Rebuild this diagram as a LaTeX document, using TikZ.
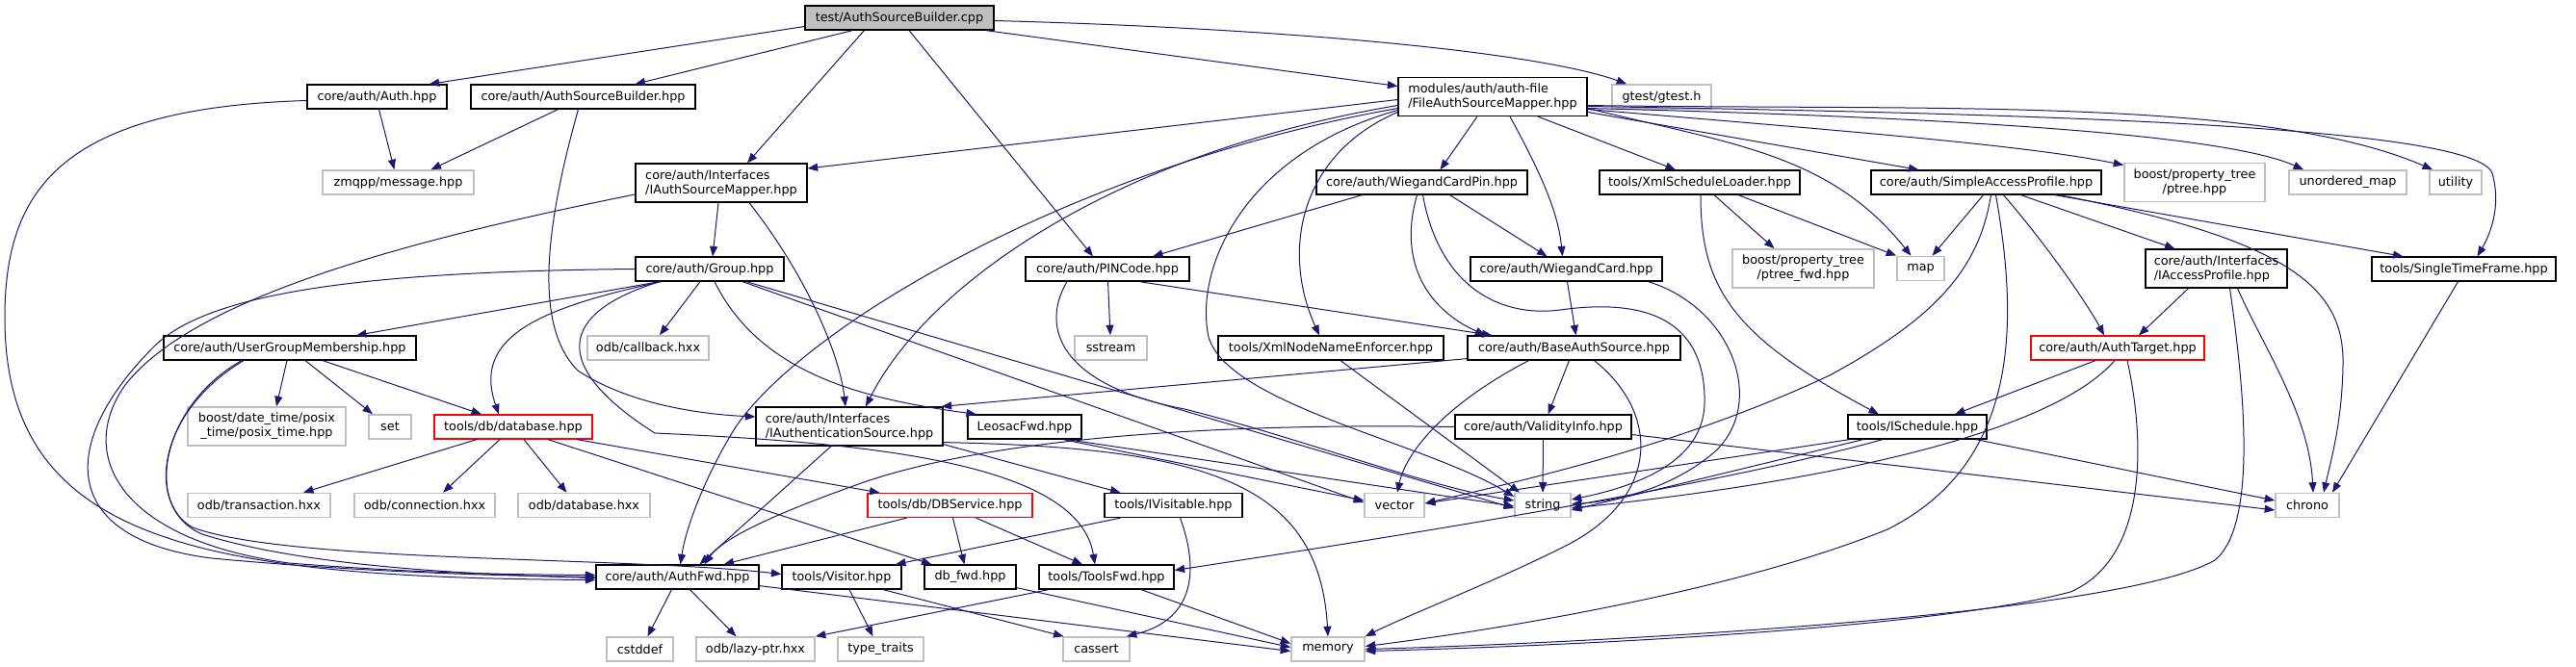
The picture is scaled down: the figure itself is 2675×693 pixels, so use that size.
\documentclass[tikz,border=0pt]{standalone}
\usepackage{fontspec}
\setmainfont{DejaVu Sans}
\usepackage{xcolor}
\usepackage{tikz}
\usetikzlibrary{arrows.meta}
\definecolor{edgeblue}{HTML}{191970}
\definecolor{extgray}{HTML}{BFBFBF}
\definecolor{truncred}{HTML}{FF0000}

\begin{document}
\begin{tikzpicture}[x=1pt,y=-1pt,font=\fontsize{12.8pt}{15pt}\selectfont,
  box/.style={draw=black,line width=1.2pt,fill=white,inner xsep=3pt,inner ysep=2pt,minimum height=25pt,align=left},
  ext/.style={box,draw=extgray,line width=1.6pt,align=center},
  trunc/.style={box,draw=truncred}, rootbox/.style={box,fill=extgray},
  wd/.style={minimum width=#1pt}, two/.style={minimum height=40pt},
  ar/.style={-{Triangle[length=10.5pt,width=8pt]},edgeblue,line width=1pt}]
  \useasboundingbox[fill=white] (0,0) rectangle (2675,693);
  \node[rootbox,wd=196] (root) at (934,18.5) {test/AuthSourceBuilder.cpp};
  \node[box,wd=145] (auth) at (391.5,100.5) {core/auth/Auth.hpp};
  \node[box,wd=233] (asb) at (605.5,100.5) {core/auth/AuthSourceBuilder.hpp};
  \node[ext,wd=157] (zmq) at (413.5,189.5) {zmqpp/message.hpp};
  \node[box,two,wd=178] (iasm) at (749,190) {core/auth/Interfaces\\/IAuthSourceMapper.hpp};
  \node[box,wd=154] (grp) at (737,279.5) {core/auth/Group.hpp};
  \node[box,two,wd=196] (fasm) at (1550,100.5) {modules/auth/auth-file\\/FileAuthSourceMapper.hpp};
  \node[ext,wd=103] (gtest) at (1725.5,100.5) {gtest/gtest.h};
  \node[box,wd=219] (wcp) at (1476.5,189.5) {core/auth/WiegandCardPin.hpp};
  \node[box,wd=208] (xsl) at (1765,189.5) {tools/XmlScheduleLoader.hpp};
  \node[box,wd=239] (sap) at (2062.5,189.5) {core/auth/SimpleAccessProfile.hpp};
  \node[ext,two,wd=146] (ptree) at (2279,189.5) {boost/property\_tree\\/ptree.hpp};
  \node[ext,wd=122] (umap) at (2438,189.5) {unordered\_map};
  \node[ext,wd=54] (util) at (2550,189.5) {utility};
  \node[box,wd=170] (pin) at (1150,279.5) {core/auth/PINCode.hpp};
  \node[box,wd=199] (wc) at (1626.5,279.5) {core/auth/WiegandCard.hpp};
  \node[ext,two,wd=147] (pfwd) at (1872.5,279) {boost/property\_tree\\/ptree\_fwd.hpp};
  \node[ext,wd=49] (map) at (1994.5,279) {map};
  \node[box,two,wd=147] (iap) at (2301.5,279) {core/auth/Interfaces\\/IAccessProfile.hpp};
  \node[box,wd=191] (stf) at (2558.5,279.5) {tools/SingleTimeFrame.hpp};
  \node[box,wd=262] (ugm) at (301,361.5) {core/auth/UserGroupMembership.hpp};
  \node[ext,wd=126] (cb) at (673,361.5) {odb/callback.hxx};
  \node[ext,wd=75] (sst) at (1153.5,361.5) {sstream};
  \node[box,wd=234] (xnne) at (1382,361.5) {tools/XmlNodeNameEnforcer.hpp};
  \node[box,wd=221] (bas) at (1634.5,361.5) {core/auth/BaseAuthSource.hpp};
  \node[trunc,wd=180] (atgt) at (2199,361.5) {core/auth/AuthTarget.hpp};
  \node[ext,two,wd=164] (posix) at (277,443) {boost/date\_time/posix\\\_time/posix\_time.hpp};
  \node[ext,wd=44] (set) at (405,443.5) {set};
  \node[trunc,wd=164] (db) at (533,443.5) {tools/db/database.hpp};
  \node[box,two,wd=194] (ias) at (882,443) {core/auth/Interfaces\\/IAuthenticationSource.hpp};
  \node[box,wd=118] (leo) at (1064,443.5) {LeosacFwd.hpp};
  \node[box,wd=183] (vinfo) at (1602.5,443.5) {core/auth/ValidityInfo.hpp};
  \node[box,wd=144] (isch) at (1991,443.5) {tools/ISchedule.hpp};
  \node[ext,wd=148] (trans) at (269,525) {odb/transaction.hxx};
  \node[ext,wd=146] (conn) at (441,525) {odb/connection.hxx};
  \node[ext,wd=137] (odbdb) at (606.5,525) {odb/database.hxx};
  \node[trunc,wd=171] (dbs) at (986.5,525) {tools/db/DBService.hpp};
  \node[box,wd=143] (ivis) at (1218.5,525) {tools/IVisitable.hpp};
  \node[ext,wd=62] (vec) at (1448,525) {vector};
  \node[ext,wd=58] (str) at (1602,525) {string};
  \node[ext,wd=66] (chr) at (2396,525) {chrono};
  \node[box,wd=169] (afwd) at (703.5,599.5) {core/auth/AuthFwd.hpp};
  \node[box,wd=124] (vis) at (874,599.5) {tools/Visitor.hpp};
  \node[box,wd=95] (dbfwd) at (1007.5,599.5) {db\_fwd.hpp};
  \node[box,wd=140] (tfwd) at (1149,599.5) {tools/ToolsFwd.hpp};
  \node[ext,wd=69] (cstd) at (664.5,674.5) {cstddef};
  \node[ext,wd=123] (lazy) at (784.5,674.5) {odb/lazy-ptr.hxx};
  \node[ext,wd=89] (tt) at (914.5,674.5) {type\_traits};
  \node[ext,wd=69] (cass) at (1138.5,674.5) {cassert};
  \node[ext,wd=76] (mem) at (1379,674.5) {memory};
  \draw[ar] ([yshift=-9]root.west) -- ([xshift=-19]auth.north east);
  \draw[ar] ([xshift=50]root.south west) -- ([xshift=54]asb.north);
  \draw[ar] ([xshift=62]root.south west) -- ([xshift=27]iasm.north);
  \draw[ar] ([xshift=10]root.south) -- ([xshift=-15]pin.north);
  \draw[ar] ([xshift=-9]root.south east) -- ([yshift=11]fasm.west);
  \draw[ar] ([yshift=-3]root.east) .. controls (1350,30) and (1600,55) .. ([xshift=16]gtest.north west);
  \draw[ar] ([xshift=2]auth.south) -- ([xshift=-4]zmq.north);
  \draw[ar] ([yshift=-4]auth.west) .. controls (60,112) and (5,200) .. (5,330) .. controls (5,560) and (200,600) .. ([yshift=-3]afwd.west);
  \draw[ar] ([xshift=-26]asb.south) -- ([xshift=34]zmq.north);
  \draw[ar] ([xshift=-5]asb.south) .. controls (565,240) and (555,340) .. (600,385) .. controls (650,418) and (720,430) .. ([yshift=10]ias.west);
  \draw[ar] ([xshift=-3]iasm.south) -- ([xshift=3]grp.north);
  \draw[ar] ([xshift=29]iasm.south) .. controls (840,290) and (872,370) .. ([xshift=-4]ias.north);
  \draw[ar] ([yshift=-12]iasm.west) .. controls (420,250) and (200,310) .. (130,400) .. controls (80,470) and (120,560) .. (300,585) .. controls (450,597) and (560,597) .. ([yshift=2]afwd.west);
  \draw[ar] (grp.west) .. controls (400,282) and (220,300) .. (160,360) .. controls (60,460) and (60,560) .. (220,580) .. controls (380,595) and (520,598) .. (afwd.west);
  \draw[ar] ([xshift=-52]grp.south) -- ([xshift=69]ugm.north);
  \draw[ar] ([xshift=-50]grp.south) .. controls (560,320) and (490,350) .. ([xshift=-15]db.north);
  \draw[ar] ([xshift=-10]grp.south) -- ([xshift=12]cb.north);
  \draw[ar] ([xshift=5]grp.south) .. controls (790,390) and (900,415) .. ([xshift=-50]leo.north);
  \draw[ar] ([xshift=-52]grp.south) .. controls (580,325) and (570,380) .. (680,450) .. controls (900,460) and (1120,480) .. ([xshift=-12]tfwd.north);
  \draw[ar] ([xshift=34]grp.south) -- ([yshift=3]vec.west);
  \draw[ar] ([xshift=38]grp.south) -- ([yshift=-3]str.west);
  \draw[ar] ([xshift=-3]ugm.south) -- ([xshift=10]posix.north);
  \draw[ar] ([xshift=16]ugm.south) -- ([xshift=-18]set.north);
  \draw[ar] ([xshift=34]ugm.south) -- ([xshift=-33]db.north);
  \draw[ar] ([xshift=-50]ugm.south) .. controls (170,420) and (150,520) .. (200,548) .. controls (300,585) and (650,578) .. ([yshift=3]vis.west);
  \draw[ar] ([xshift=-48]ugm.south) .. controls (160,430) and (150,530) .. (210,555) .. controls (320,590) and (500,597) .. ([yshift=-1]afwd.west);
  \draw[ar] ([xshift=-38]db.south) -- ([xshift=46]trans.north);
  \draw[ar] ([xshift=-14]db.south) -- ([xshift=19]conn.north);
  \draw[ar] ([xshift=11]db.south) -- ([xshift=-18]odbdb.north);
  \draw[ar] ([xshift=66]db.south) -- ([xshift=-73]dbs.north);
  \draw[ar] ([xshift=36]db.south) -- ([xshift=-40]dbfwd.north);
  \draw[ar] ([xshift=-19]ias.south) -- ([xshift=23]afwd.north);
  \draw[ar] ([yshift=2]ias.south east) -- ([xshift=-55]ivis.north);
  \draw[ar] ([yshift=4]ias.south east) .. controls (1250,465) and (1370,500) .. (mem.north);
  \draw[ar] ([xshift=-45]dbs.south) -- ([xshift=48]afwd.north);
  \draw[ar] ([xshift=3]dbs.south) -- ([xshift=-6]dbfwd.north);
  \draw[ar] ([xshift=27]dbs.south) -- ([xshift=-25]tfwd.north);
  \draw[ar] ([xshift=-55]ivis.south) -- ([xshift=56]vis.north);
  \draw[ar] ([xshift=7]ivis.south) .. controls (1248,600) and (1235,645) .. ([xshift=-4]cass.north east);
  \draw[ar] ([xshift=-6]afwd.south) -- ([xshift=8]cstd.north);
  \draw[ar] ([xshift=13]afwd.south) -- ([xshift=-20]lazy.north);
  \draw[ar] ([yshift=4]afwd.south east) -- ([yshift=-2]mem.west);
  \draw[ar] ([xshift=8]vis.south) -- ([xshift=-8]tt.north);
  \draw[ar] ([xshift=43]vis.south) -- ([xshift=-34]cass.north);
  \draw[ar] ([yshift=2]dbfwd.south east) -- ([yshift=2]mem.west);
  \draw[ar] ([xshift=-60]tfwd.south) -- (lazy.north east);
  \draw[ar] ([xshift=36]tfwd.south) -- ([yshift=6]mem.west);
  \draw[ar] ([xshift=40]leo.south) -- ([yshift=5]vec.west);
  \draw[ar] ([xshift=44]leo.south) -- ([yshift=-1]str.west);
  \draw[ar] (pin) -- (sst);
  \draw[ar] ([xshift=33]pin.south) -- ([xshift=-85]bas.north);
  \draw[ar] ([xshift=-42]pin.south) .. controls (1080,340) and (1100,400) .. (1230,425) .. controls (1350,455) and (1480,505) .. ([yshift=5]str.west);
  \draw[ar] ([xshift=-62]wcp.south) -- ([xshift=47]pin.north);
  \draw[ar] ([xshift=29]wcp.south) -- ([xshift=-20]wc.north);
  \draw[ar] ([xshift=-5]wcp.south) .. controls (1452,270) and (1480,320) .. ([xshift=-92]bas.north);
  \draw[ar] ([xshift=1]wcp.south) .. controls (1495,300) and (1560,330) .. (1620,322) .. controls (1720,308) and (1772,340) .. (1770,420) .. controls (1768,480) and (1700,505) .. ([yshift=6]str.east);
  \draw[ar] ([xshift=1]wc.south) -- ([xshift=2]bas.north);
  \draw[ar] ([xshift=85]wc.south) .. controls (1800,320) and (1835,420) .. (1780,470) .. controls (1735,508) and (1680,520) .. ([yshift=1]str.east);
  \draw[ar] ([yshift=-3]fasm.west) -- ([yshift=15]iasm.east);
  \draw[ar] ([yshift=-9]fasm.west) .. controls (1150,160) and (960,300) .. ([xshift=17]ias.north);
  \draw[ar] ([yshift=-12]fasm.west) .. controls (1100,175) and (820,350) .. (760,450) .. controls (730,500) and (712,550) .. ([xshift=3]afwd.north);
  \draw[ar] ([yshift=-16]fasm.west) .. controls (1350,160) and (1330,260) .. ([xshift=-12]xnne.north);
  \draw[ar] ([yshift=-14]fasm.west) .. controls (1290,160) and (1240,280) .. (1255,350) .. controls (1275,420) and (1480,460) .. ([yshift=9]str.west);
  \draw[ar] ([xshift=-16]fasm.south) -- ([xshift=19]wcp.north);
  \draw[ar] ([xshift=18]fasm.south) .. controls (1600,180) and (1618,220) .. ([xshift=-4]wc.north);
  \draw[ar] ([xshift=47]fasm.south) -- ([xshift=-25]xsl.north);
  \draw[ar] ([yshift=-12]fasm.east) .. controls (1800,150) and (1900,160) .. ([xshift=-10]map.north);
  \draw[ar] ([yshift=-16]fasm.east) -- ([xshift=-70]sap.north);
  \draw[ar] ([yshift=-13]fasm.east) .. controls (1900,135) and (2100,150) .. ([yshift=18]ptree.west);
  \draw[ar] ([yshift=-12]fasm.east) .. controls (1950,120) and (2300,135) .. ([xshift=-46]umap.north);
  \draw[ar] ([yshift=-9]fasm.east) .. controls (2000,115) and (2350,100) .. ([xshift=-24]util.north);
  \draw[ar] ([yshift=-10]fasm.east) .. controls (2100,118) and (2570,130) .. (2588,180) .. controls (2598,215) and (2585,245) .. ([xshift=14]stf.north);
  \draw[ar] ([xshift=15]xsl.south) -- ([xshift=-30]pfwd.north);
  \draw[ar] ([xshift=40]xsl.south) -- (map.north west);
  \draw[ar] ([xshift=1]xsl.south) .. controls (1766,300) and (1800,350) .. ([xshift=-40]isch.north);
  \draw[ar] ([xshift=-3]sap.south) -- ([xshift=12]map.north);
  \draw[ar] ([xshift=5]sap.south) .. controls (2055,280) and (2010,330) .. (1900,390) .. controls (1750,460) and (1600,495) .. ([yshift=2]vec.east);
  \draw[ar] ([xshift=10]sap.south) .. controls (2095,330) and (2100,480) .. (1960,550) .. controls (1800,615) and (1550,655) .. ([yshift=3]mem.east);
  \draw[ar] ([xshift=18]sap.south) .. controls (2130,260) and (2170,320) .. ([xshift=-14]atgt.north);
  \draw[ar] ([xshift=36]sap.south) -- ([xshift=-43]iap.north);
  \draw[ar] ([xshift=71]sap.south) -- ([xshift=-63]stf.north);
  \draw[ar] ([xshift=76]sap.south) .. controls (2380,250) and (2435,300) .. (2433,380) .. controls (2432,440) and (2420,480) .. ([xshift=17]chr.north);
  \draw[ar] ([xshift=-29]iap.south) -- ([xshift=22]atgt.north);
  \draw[ar] ([xshift=22]iap.south) .. controls (2350,360) and (2398,430) .. ([xshift=6]chr.north);
  \draw[ar] ([xshift=14]iap.south) .. controls (2330,400) and (2345,545) .. (2300,582) .. controls (2200,640) and (1650,668) .. (mem.east);
  \draw[ar] ([xshift=-23]atgt.south) -- ([xshift=39]isch.north);
  \draw[ar] ([xshift=-3]atgt.south) .. controls (2130,450) and (1900,500) .. ([yshift=-3]str.east);
  \draw[ar] ([xshift=10]atgt.south) .. controls (2228,460) and (2230,580) .. (2150,615) .. controls (2000,655) and (1600,672) .. ([yshift=-2]mem.east);
  \draw[ar] ([xshift=-70]isch.south) -- ([yshift=2]vec.east);
  \draw[ar] ([xshift=-56]isch.south) -- ([yshift=-5]str.east);
  \draw[ar] ([xshift=-36]isch.south) .. controls (1800,500) and (1500,550) .. ([yshift=7]tfwd.east);
  \draw[ar] ([xshift=61]isch.south) -- ([yshift=5]chr.west);
  \draw[ar] (vinfo) -- (str);
  \draw[ar] ([yshift=-8]vinfo.east) -- ([yshift=-5]chr.west);
  \draw[ar] (vinfo.west) .. controls (1300,440) and (1050,450) .. (900,500) .. controls (800,535) and (750,560) .. ([xshift=28]afwd.north);
  \draw[ar] ([yshift=2]bas.south west) -- ([xshift=-2]ias.north east);
  \draw[ar] ([xshift=-5]bas.south) -- ([xshift=5]vinfo.north);
  \draw[ar] ([xshift=-47]bas.south) .. controls (1500,420) and (1460,470) .. ([xshift=3]vec.north);
  \draw[ar] ([xshift=21]bas.south) .. controls (1725,430) and (1725,520) .. (1620,570) .. controls (1550,605) and (1460,640) .. (mem.north east);
  \draw[ar] ([xshift=10]xnne.south) -- ([xshift=-24]str.north);
  \draw[ar] ([xshift=-6]stf.south) -- ([xshift=26]chr.north);
\end{tikzpicture}
\end{document}
